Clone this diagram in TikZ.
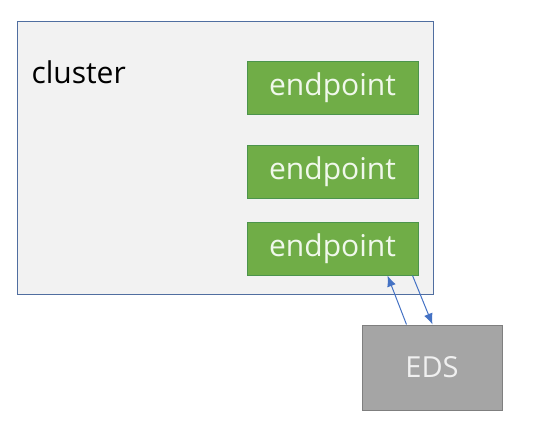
\documentclass[tikz,border=0pt]{standalone}
\usepackage{fontspec}
\setmainfont{Open Sans}
\usetikzlibrary{arrows.meta}
\begin{document}
\begin{tikzpicture}[x=1pt, y=-1pt]

      \tikzset{endpointbox/.style={draw=green!40!black!70, line width=1pt, fill={rgb,255:red,112;green,173;blue,71}, text={rgb,255:red,240;green,248;blue,235}, minimum width=171pt, minimum height=53pt, inner sep=0pt, font=\fontsize{30}{34}\selectfont}}
      \tikzset{flow/.style={draw={rgb,255:red,68;green,114;blue,196}, line width=1pt, -{Latex[length=11pt,width=9pt]}}}
      \useasboundingbox (0,0) rectangle (542,431);
%% Cluster
      	\node[draw={rgb,255:red,80;green,110;blue,160}, line width=1pt, fill={rgb,255:red,242;green,242;blue,242}, minimum width=416pt, minimum height=273pt, inner sep=0pt] (cluster) at (225,157.5) {};
      	\node[anchor=base west, font=\fontsize{30}{34}\selectfont] (clusterlabel) at (28,83) {cluster};
%% Endpoints
      	\node[endpointbox] (ep1) at (332.5,87.5) {endpoint};
      	\node[endpointbox] (ep2) at (332.5,172) {endpoint};
      	\node[endpointbox] (ep3) at (332.5,248.5) {endpoint};
%% EDS
      	\node[draw={rgb,255:red,127;green,127;blue,127}, line width=1pt, fill={rgb,255:red,165;green,165;blue,165}, text={rgb,255:red,240;green,240;blue,240}, minimum width=140pt, minimum height=85pt, inner sep=0pt, font=\fontsize{29}{33}\selectfont] (eds) at (432,367.5) {EDS};
%Edges
		\path[flow] ([xshift=45pt]eds.north west) -- ([xshift=141pt]ep3.south west);
		\path[flow] ([xshift=166pt]ep3.south west) -- ([xshift=71pt]eds.north west);

	\end{tikzpicture}
\end{document}
